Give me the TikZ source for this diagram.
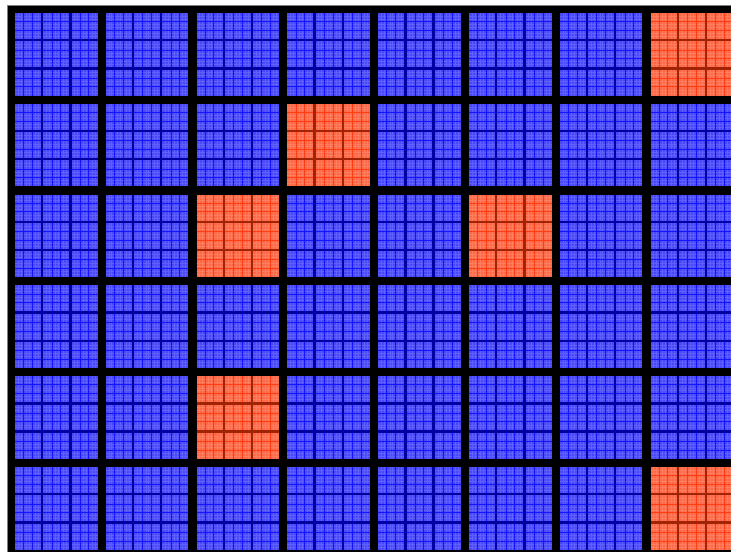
\documentclass[tikz,border=0pt]{standalone}
\usetikzlibrary{positioning}

\definecolor{bluefill}{RGB}{72,72,248}
\definecolor{blueline}{RGB}{20,20,255}
\definecolor{bluefaint}{RGB}{95,95,252}
\definecolor{bluegap}{RGB}{0,0,160}
\definecolor{redfill}{RGB}{255,104,70}
\definecolor{redline}{RGB}{255,60,20}
\definecolor{redfaint}{RGB}{255,125,95}
\definecolor{redgap}{RGB}{160,35,5}

\tikzset{
  frame/.style={fill=black},
  bluetilegap/.style={fill=bluegap},
  bluetilefill/.style={fill=bluefill},
  bluetileline/.style={draw=blueline, line width=0.9pt},
  bluetilefaint/.style={draw=bluefaint, line width=0.3pt},
  redtilegap/.style={fill=redgap},
  redtilefill/.style={fill=redfill},
  redtileline/.style={draw=redline, line width=0.9pt},
  redtilefaint/.style={draw=redfaint, line width=0.3pt},
}

% one tile: column, row, palette (blue or red)
\newcommand{\celltile}[3]{%
  \pgfmathsetmacro{\tx}{15+90.8*#1}
  \pgfmathsetmacro{\ty}{13+90.8*#2}
  \fill[#3tilegap] (\tx,\ty) rectangle ++(82.6,82.6);
  \foreach \i in {0,1,2}{
    \foreach \j in {0,1,2}{
      \pgfmathsetmacro{\sx}{\tx+\i*28.33}
      \pgfmathsetmacro{\sy}{\ty+\j*28.33}
      \fill[#3tilefill] (\sx,\sy) rectangle ++(25.93,25.93);
      \foreach \k in {1,2,4,5,7,8}{
        \draw[#3tilefaint] (\sx+\k*2.881,\sy) -- ++(0,25.93);
        \draw[#3tilefaint] (\sx,\sy+\k*2.881) -- ++(25.93,0);
      }
      \foreach \k in {1,2}{
        \draw[#3tileline] (\sx+\k*8.643,\sy) -- ++(0,25.93);
        \draw[#3tileline] (\sx,\sy+\k*8.643) -- ++(25.93,0);
      }
    }
  }
}

\begin{document}
\begin{tikzpicture}[x=1pt, y=-1pt]
  \useasboundingbox (0,0) rectangle (731,552);
  \fill[frame] (7,5) rectangle (731,552);
  \draw[gray, line width=0.6pt] (7,552) -- (7,5) -- (731,5);

  % blue tiles everywhere
  \foreach \c in {0,...,7}{
    \foreach \r in {0,...,5}{
      \celltile{\c}{\r}{blue}
    }
  }

  % red tiles on top
  \foreach \c/\r in {7/0, 3/1, 2/2, 5/2, 2/4, 7/5}{
    \celltile{\c}{\r}{red}
  }
\end{tikzpicture}
\end{document}
